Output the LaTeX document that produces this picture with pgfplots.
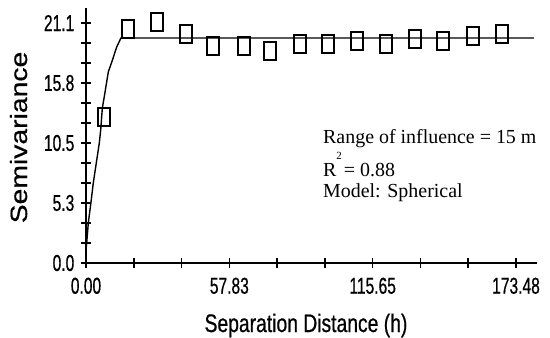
\documentclass[border=0pt]{standalone}
\usepackage{fontspec}
\setmainfont{Liberation Serif}
\newfontfamily\xlabfont[FakeStretch=0.76,FakeBold=0.6]{Liberation Sans}
\newfontfamily\ylabfont[FakeStretch=1.2,FakeBold=0.6]{Liberation Sans}
\newfontfamily\tickfont[FakeStretch=0.68,FakeBold=0.6]{Liberation Sans}
\usepackage{pgfplots}
\pgfplotsset{compat=1.18}
\begin{document}
\begin{tikzpicture}
\path[use as bounding box] (0,0) rectangle (550bp,338bp);
\begin{axis}[
  at={(86bp,75bp)}, anchor=south west,
  scale only axis, width=451bp, height=255bp,
  xmin=0, xmax=181.95, ymin=0, ymax=22.42,
  axis lines*=left,
  axis line style={line width=2bp, black},
  tick align=center,
  major tick length=9bp, minor tick length=9bp,
  tick style={line width=1.6bp, black},
  xtick={0,57.83,115.65,173.48},
  xticklabels={0.00,57.83,115.65,173.48},
  minor xtick={19.28,38.55,77.10,96.38,134.93,154.20},
  ytick={0,5.275,10.55,15.825,21.1},
  yticklabels={0.0,5.3,10.5,15.8,21.1},
  minor ytick={1.758,3.517,7.033,8.792,12.31,14.07,17.58,19.34},
  /pgf/number format/assume math mode=true,
  ticklabel style={font=\tickfont\fontsize{23}{23}\selectfont, inner sep=0pt},
  xticklabel style={anchor=north, yshift=-10bp},
  yticklabel style={anchor=east, xshift=-7bp},
  clip=false,
]
\addplot[black, line width=1.4bp] coordinates {
  (0,1.2) (0.28,1.76) (0.93,3.52) (2.02,5.36) (2.94,7.03) (4.03,8.62)
  (5.37,10.55) (5.93,11.7) (6.58,13.6) (7.66,15.0) (9.0,16.8)
  (10.6,17.8) (12.4,19.0) (14.1,19.78) (180.7,19.78)
};
\addplot[only marks, mark=square, mark size=9.4bp,
  mark options={xscale=0.63, line width=2bp, black}] coordinates {
  (7.26,12.84) (16.9,20.57) (28.6,21.19) (40.3,20.13) (51.2,19.08)
  (63.7,19.08) (74.2,18.64) (86.3,19.25) (97.6,19.25) (109.3,19.52)
  (121.0,19.25) (132.7,19.69) (144.0,19.52) (156.1,19.96) (167.8,20.13)
};
\end{axis}
\node[anchor=base west, inner sep=0pt, font=\fontsize{20}{20}\selectfont] at (323bp,194.7bp) {Range of influence = 15 m};
\node[anchor=base west, inner sep=0pt, font=\fontsize{20}{20}\selectfont] at (323bp,161.3bp) {R\raisebox{17bp}{\fontsize{11}{11}\selectfont 2}\hspace{2bp}= 0.88};
\node[anchor=base west, inner sep=0pt, font=\fontsize{20}{20}\selectfont] at (323bp,140.3bp) {Model: Spherical};
\node[anchor=base, inner sep=0pt, font=\xlabfont\fontsize{25.5}{25.5}\selectfont] at (306bp,6bp) {Separation Distance (h)};
\node[anchor=base, rotate=90, inner sep=0pt, font=\ylabfont\fontsize{23.7}{23.7}\selectfont] at (27bp,200.5bp) {Semivariance};
\end{tikzpicture}
\end{document}
